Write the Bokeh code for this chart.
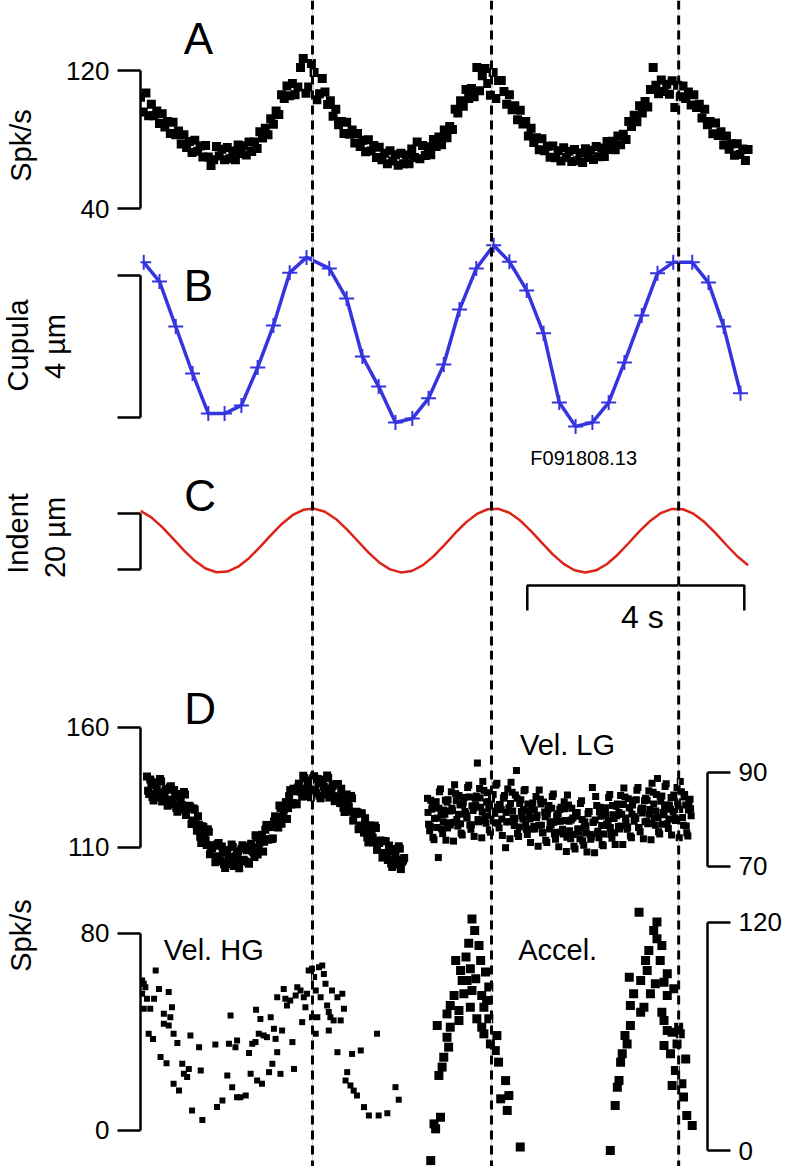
import numpy as np
from math import pi
from bokeh.plotting import figure
from bokeh.models import Range1d, LinearAxis, FixedTicker, Span, Label
from bokeh.embed import file_html
from bokeh.resources import INLINE

# ---------------- data ----------------
# A: afferent firing rate (spk/s), samples every 0.05 s
a_rate = [104.5, 96, 107, 93.8, 100.5, 93.8, 96.5, 89.3, 95, 87.3,
          90.5, 83.5, 90, 82.8, 85, 77.4, 82.8, 75.4, 78.9, 72.5,
          79.6, 73.2, 76.2, 69.9, 76.5, 69.8, 65, 68.2, 75.9, 70.4,
          74.3, 68.3, 75.3, 68.8, 73.3, 68.3, 76.8, 71.9, 76.4, 71,
          78.5, 73, 78.5, 74.8, 84.5, 80.8, 86.5, 82.8, 92, 88.8,
          96.5, 94.5, 106, 103.8, 111, 105.3, 112.5, 106, 110.5, 121.7,
          127, 106.8, 110.5, 124, 118.8, 103, 106.5, 115.4, 107.5, 100.3,
          102.5, 93.5, 97.5, 88.5, 90.5, 83.5, 90, 83, 85.5, 78,
          83.5, 76, 79.5, 72.9, 79.8, 73.4, 76.5, 69.5, 75.5, 68.3,
          72, 66, 73.5, 67.6, 71.2, 65.1, 72, 66, 71, 66,
          74.5, 69.5, 78.5, 68.8, 76.5, 70.7, 75.8, 71.2, 80, 76,
          81.5, 77, 85.5, 81, 87.5, 85.8, 97.5, 95.3, 102.5, 99.3,
          109, 103.8, 109.5, 104.8, 121.7, 108.3, 117, 121.2, 112.5, 105.7,
          118.8, 103.7, 114.2, 114.2, 107.8, 100.4, 106, 97.3, 99.5, 91.5,
          97, 89, 90.5, 82, 86.5, 78.3, 81, 74, 80.5, 73.5,
          76.1, 69.7, 76.3, 69.4, 73.5, 67.6, 75.2, 69.5, 73.2, 67.2,
          74.2, 67.7, 72.2, 66.7, 74.7, 69.5, 73.8, 68.4, 76, 70,
          75.1, 70.2, 78.8, 74.2, 79, 74, 82, 77, 83, 80,
          90.5, 87.5, 94, 90.3, 99.5, 95.3, 102, 98.8, 109, 121.7,
          111.5, 106.5, 114.5, 107.8, 112, 106.3, 114, 98.6, 111.5, 104.8,
          111, 103.8, 107.5, 100, 106, 98.5, 100.5, 92.5, 97.5, 88.5,
          90.5, 83.3, 89.5, 82.3, 84.5, 76.8, 82, 74.3, 77.5, 70.8,
          77.5, 71.3, 74.5, 67.9, 74.2]
a_time = np.round(0.05 * np.arange(len(a_rate)), 3)

# B: cupula displacement (um)
b_time = [0.06, 0.35, 0.65, 0.96, 1.25, 1.55, 1.86, 2.16, 2.45, 2.75,
          3.06, 3.48, 3.80, 4.09, 4.39, 4.70, 5.01, 5.31, 5.59, 5.88,
          6.19, 6.51, 6.80, 7.12, 7.43, 7.72, 8.02, 8.33, 8.63, 8.92,
          9.24, 9.53, 9.82, 10.17, 10.47, 10.75, 11.06]
b_cupula = [4.37, 3.83, 2.56, 1.24, 0.11, 0.11, 0.34, 1.41, 2.59, 4.08,
            4.51, 4.20, 3.35, 1.72, 0.87, -0.14, -0.03, 0.54, 1.49, 3.04,
            4.20, 4.85, 4.39, 3.58, 2.37, 0.42, -0.25, -0.14, 0.42, 1.55,
            2.87, 4.06, 4.37, 4.37, 3.80, 2.56, 0.68]

# C: indentation stimulus (um), samples every 0.2 s
c_indent = [20.92, 18.60, 15.14, 11.02, 6.81, 3.09, 0.37, -0.97, -0.74, 1.01,
            4.05, 7.96, 12.21, 16.19, 19.38, 21.32, 21.75, 20.61, 18.05, 14.44,
            10.26, 6.10, 2.52, 0.03, -1.04, -0.54, 1.47, 4.70, 8.71, 12.95,
            16.83, 19.83, 21.51, 21.66, 20.25, 17.48, 13.72, 9.50, 5.40, 1.99,
            -0.27, -1.07, -0.29, 1.96, 5.37, 9.46, 13.68, 17.44, 20.23, 21.65,
            21.52, 19.85, 16.87, 12.99, 8.75, 4.73, 1.49]
c_time = np.round(0.2 * np.arange(len(c_indent)), 2)

# D upper left (spk/s, left scale), two interleaved sample sets every 0.04 s
d1l_rate_a = [139.6, 132.3, 136, 129.6, 137.2, 132.8, 138.5, 129.2, 132.8, 134.4,
              130, 135.5, 128, 131.5, 124.9, 132.3, 127.7, 133.1, 123.5, 126.4,
              126.8, 121.2, 125.7, 117, 119.5, 111.9, 118.5, 113, 117.6, 107.2,
              109.8, 110.8, 106.3, 111.9, 104.4, 108, 101.5, 109, 105.1, 111.2,
              102.3, 106.3, 108.4, 104.5, 110.9, 104.4, 108.8, 103.2, 111.6, 108,
              115.1, 107.1, 112.2, 115.3, 112.4, 119.4, 113.3, 118.5, 113.8, 123,
              120.3, 127.5, 119.9, 125.4, 128.9, 126.4, 133.9, 128.5, 133.4, 128,
              136.6, 133.2, 139.9, 131.5, 136, 137.9, 133.8, 139.7, 132.6, 136.6,
              130.5, 138.3, 134.1, 140, 130.8, 134.6, 136.3, 131.4, 136.4, 128.5,
              131.6, 124.8, 132.1, 126.9, 131.5, 121.2, 123.9, 124.6, 119.2, 124.2,
              116.2, 119.2, 112.1, 119.1, 114.1, 119.1, 109, 111.9, 112.8, 107.7,
              112.6, 104.8, 108.3, 101.9, 109.4, 104.9, 110.5, 101, 104.6]
d1l_rate_b = [133.6, 138.3, 131, 136.6, 134.2, 130.8, 137.5, 132.2, 133.8, 127.4,
              135, 129.5, 134, 126.5, 131.9, 129.3, 125.7, 132.1, 126.5, 127.4,
              119.8, 126.2, 119.7, 123, 114.5, 118.9, 115.5, 111, 116.6, 110.2,
              110.8, 103.8, 111.3, 105.9, 110.4, 103, 108.5, 106, 103.1, 110.2,
              105.3, 107.3, 101.4, 109.5, 104.9, 110.4, 103.8, 110.2, 108.6, 106,
              114.1, 110.1, 113.2, 108.3, 117.4, 113.4, 119.3, 113.5, 120.8, 120,
              118.3, 126.5, 122.9, 126.4, 121.9, 131.4, 127.9, 134.5, 128.4, 135,
              133.6, 131.2, 138.9, 134.5, 137, 130.9, 138.8, 133.7, 138.6, 131.6,
              137.5, 135.3, 132.1, 139, 133.8, 135.6, 129.3, 136.4, 130.4, 134.5,
              126.6, 131.8, 129.1, 124.9, 130.5, 124.2, 124.9, 117.6, 124.2, 118.2,
              122.2, 114.2, 119.1, 116.1, 112.1, 118.1, 112, 112.9, 105.8, 112.7,
              106.6, 110.8, 103.3, 108.9, 106.4, 102.9, 109.5, 104, 105.6]
d1l_time_a = np.round(0.12 + 0.04 * np.arange(len(d1l_rate_a)), 3)
d1l_time_b = np.round(0.14 + 0.04 * np.arange(len(d1l_rate_b)), 3)

# D upper right: Vel. LG (spk/s, right scale), three interleaved sample sets
lg_rate_a = [84.5, 77.6, 82.2, 75.7, 83.8, 71.9, 86.5, 77, 81.1, 83.7,
             79.3, 85.9, 75.4, 85.5, 78.6, 83.1, 76.7, 84.7, 80.8, 87.3,
             77.9, 81.9, 84.5, 92, 86.6, 76.1, 86.2, 79.2, 83.8, 77.3,
             85.3, 81.3, 87.7, 78.2, 82.1, 84.6, 74, 86.5, 75.9, 85.8,
             78.7, 90.4, 76.4, 84.2, 80.1, 86.4, 76.8, 80.6, 83, 78.5,
             84.9, 74.3, 84.3, 77.2, 81.6, 75.1, 83, 78.9, 85.4, 75.8,
             79.7, 82.1, 77.4, 83.8, 73.2, 83.1, 75.9, 80.3, 73.7, 81.5,
             77.4, 84, 74.5, 78.6, 81.2, 76.8, 86.8, 72.9, 83, 76.1,
             80.7, 74.4, 82.5, 78.7, 85.3, 76, 80.2, 82.8, 78.5, 85.1,
             74.7, 84.8, 77.9, 82.5, 76.1, 84.1, 80.2, 86.8, 77.4, 81.4,
             84, 79.6, 86.1, 75.7, 85.8, 78.8, 88.7, 76.9, 85, 81,
             87.6, 78.1, 82.2, 84.7, 80.3, 86.8, 76.1, 85.9, 78.8, 83.1,
             76.5, 84.3]
lg_rate_b = [79, 84.1, 76.2, 82.7, 80.3, 85.9, 78, 82, 75.6, 84.2,
             78.8, 81.9, 87.4, 80, 85.1, 77.1, 83.7, 81.2, 86.8, 78.8,
             82.9, 76.4, 85, 79.5, 82.6, 88.1, 80.7, 85.7, 77.8, 84.3,
             81.8, 87.3, 79.2, 83.2, 76.6, 85.1, 79.5, 82.5, 87.9, 80.3,
             85.2, 77, 83.4, 80.7, 86.1, 77.9, 81.8, 75.1, 83.5, 78,
             80.9, 86.3, 78.8, 83.7, 75.6, 82.1, 79.5, 84.9, 76.9, 80.8,
             74.2, 82.6, 76.9, 79.8, 85.2, 77.6, 82.4, 74.3, 80.7, 78,
             83.4, 75.5, 79.5, 73.1, 81.7, 76.3, 79.4, 84.9, 77.5, 82.6,
             74.7, 81.4, 79, 84.7, 76.8, 81, 74.7, 83.3, 78, 81.1,
             86.7, 79.3, 84.4, 76.5, 83.1, 80.6, 86.2, 78.3, 82.4, 75.9,
             84.5, 79.1, 82.1, 87.7, 80.3, 85.3, 77.4, 83.9, 81.5, 87,
             79.1, 83.1, 76.7, 85.2, 79.8, 82.8, 88.1, 80.4, 85.3, 77.1,
             83.5, 80.8]
lg_rate_c = [81.5, 78.6, 83.2, 80.2, 78.3, 82.4, 81, 79.5, 84.1, 78.2,
             81.8, 82.4, 79.4, 84, 81.1, 79.1, 83.2, 81.7, 80.3, 84.8,
             78.9, 82.4, 83, 80, 84.6, 81.6, 79.7, 83.7, 82.3, 80.8,
             85.3, 79.3, 82.7, 83.2, 80.1, 84.6, 81.5, 79.5, 83.4, 81.8,
             80.2, 84.5, 78.4, 81.7, 82.1, 78.9, 83.3, 80.1, 78, 82,
             80.4, 78.8, 83.3, 77.2, 80.6, 81.1, 78, 82.4, 79.4, 77.3,
             81.2, 79.6, 77.9, 82.3, 76.2, 79.6, 79.9, 76.8, 81.2, 78,
             75.9, 80, 78.5, 77.1, 81.7, 75.8, 79.4, 79.9, 77, 81.6,
             78.7, 76.9, 81, 79.7, 78.3, 83, 77.2, 80.8, 81.5, 78.6,
             83.2, 80.3, 78.4, 82.5, 81.1, 79.6, 84.2, 78.3, 81.9, 82.4,
             79.5, 84.1, 81.1, 79.2, 83.3, 81.8, 80.4, 84.9, 79, 82.5,
             83.1, 80.1, 84.7, 81.7, 79.8, 83.8, 82.1, 80.4, 84.8, 78.6,
             82, 82.3]
lg_time_a = np.round(5.29 + 0.04 * np.arange(len(lg_rate_a)), 3)
lg_time_b = np.round(5.31 + 0.04 * np.arange(len(lg_rate_b)), 3)
lg_time_c = np.round(5.30 + 0.04 * np.arange(len(lg_rate_c)), 3)

# D lower left: Vel. HG (spk/s, left scale)
hg_time = [0.03, 0.06, 0.09, 0.03, 0.12, 0.06, 0.18, 0.28, 0.34, 0.52,
           0.25, 0.43, 0.58, 0.55, 0.43, 0.52, 0.15, 0.23, 0.37, 0.48,
           0.61, 0.68, 0.77, 0.80, 0.89, 0.92, 0.61, 0.71, 0.86, 0.95,
           1.08, 1.11, 1.14, 1.38, 1.41, 1.51, 1.60, 1.63, 1.66, 1.69,
           1.78, 1.75, 1.78, 1.84, 1.94, 2.00, 2.03, 2.06, 2.12, 2.13,
           2.15, 2.24, 2.21, 2.18, 2.27, 2.33, 2.37, 2.40, 2.43, 2.46,
           2.49, 2.52, 2.58, 2.61, 2.52, 2.64, 2.67, 2.70, 2.76, 2.80,
           2.83, 2.86, 2.89, 2.95, 2.98, 3.01, 3.04, 3.07, 3.10, 3.16,
           3.20, 3.23, 3.26, 3.29, 3.32, 3.35, 3.38, 3.41, 3.44, 3.47,
           3.50, 3.53, 3.56, 3.63, 3.69, 3.72, 3.75, 3.47, 3.23, 3.16,
           3.63, 3.90, 4.06, 3.81, 3.78, 3.87, 3.93, 3.99, 4.12, 4.21,
           4.39, 4.55, 4.70, 4.76, 4.36]
hg_rate = [60.9, 59.6, 58.2, 55.5, 53.5, 49.4, 49.4, 65, 57.5, 56.2,
           53.5, 47.4, 50.1, 46, 43.3, 42.6, 39.3, 37.2, 29.8, 27.3,
           39.3, 35.5, 27.1, 23, 25, 38.6, 19, 16.2, 21.7, 8.1,
           33.8, 24.4, 4.3, 34.9, 9.5, 12.2, 22.3, 35.2, 46.7, 17.6,
           36.5, 33.8, 13.5, 13.5, 14.2, 31.5, 23, 35.2, 35.9, 49,
           20.3, 19, 45.3, 39.3, 38.6, 37.9, 23.7, 46, 27.1, 41.3,
           37.2, 31.8, 23, 40.6, 54.1, 57.5, 53.5, 50.8, 52.8, 35.9,
           25, 54.8, 58.2, 56.9, 44, 54.1, 50.1, 55.5, 65, 65.7,
           62.3, 56.9, 46, 66.3, 54.1, 67, 63.6, 59.6, 50.8, 48.1,
           46, 56.9, 44.7, 54.1, 44.7, 55.5, 49.4, 40.6, 39.3, 46,
           31.8, 31.1, 32.5, 23.7, 20.3, 18.3, 16.2, 14.2, 9.5, 6.1,
           6.1, 7, 17.6, 12.5, 39.3]

# D lower right: Accel. (spk/s, right scale)
acc_time = [6.11, 6.16, 6.05, 6.24, 5.81, 6.00, 6.27, 5.90, 6.08, 6.36,
            5.93, 6.02, 6.18, 6.42, 5.78, 5.96, 6.11, 6.29, 6.38, 5.71,
            5.87, 6.08, 6.33, 5.65, 5.87, 6.20, 6.42, 5.47, 5.71, 6.29,
            5.65, 6.33, 6.57, 5.68, 6.45, 5.59, 6.54, 5.56, 6.60, 5.50,
            6.73, 6.64, 6.79, 6.76, 5.53, 5.41, 5.44, 5.35, 7.00,
            9.19, 9.52, 9.46, 9.52, 9.61, 9.37, 9.31, 9.58, 9.71, 9.34,
            9.01, 9.22, 9.49, 9.65, 9.83, 9.09, 9.40, 9.71, 9.03, 9.28,
            9.22, 9.61, 9.03, 9.65, 9.71, 9.92, 9.80, 8.93, 9.95, 8.97,
            9.65, 9.89, 8.88, 9.77, 8.85, 10.05, 9.86, 8.82, 8.79, 9.80,
            9.98, 10.01, 8.75, 10.07, 10.17, 8.66]
acc_rate = [121.9, 115.8, 109.1, 107.9, 100, 101.8, 100, 94.7, 95.6, 93.9,
            89.5, 89.5, 90.4, 86, 81.6, 82.5, 84.2, 81.6, 78.9, 76.3,
            73.7, 75.4, 75.4, 71.9, 68.4, 69.3, 69.3, 65.8, 64.9, 64.9,
            59.6, 61.4, 60.5, 54.4, 56.1, 49.1, 52.6, 43.9, 46.5, 39.5,
            36.8, 27.2, 28.9, 21.1, 17.5, 14, 11.4, -5.3, 1.8,
            125.4, 120.2, 115.8, 111.4, 107.9, 105.3, 100, 100, 93, 94.7,
            91.2, 89.5, 87.7, 88.6, 85.1, 82.5, 82.5, 81.6, 76.3, 75.4,
            72.8, 72.8, 65.8, 68.4, 63.2, 64.9, 62.3, 60.5, 61.4, 56.1,
            55.3, 56.1, 50.9, 50.9, 46.5, 48.2, 42.1, 36.8, 33.3, 34.2,
            35.1, 28.1, 23.7, 18.4, 13.2, 0]

# times of the stimulus peaks (dashed reference lines), s
peak_times = [3.17, 6.47, 9.92]
# time scale bar
scale_bar_start = 7.13
scale_bar_len = 4

# ---------------- styling / layout ----------------
FONT = "Liberation Sans"
W = 785
LEFT = 140
PX_PER_S = 54.25
BLUE = "#3535e0"
RED = "#dd2218"
LBL = "29px"
LETTER = "44px"


def make_fig(height, y0, y1, right):
    frame_w = W - LEFT - right
    p = figure(width=W, height=height,
               x_range=Range1d(0, frame_w / PX_PER_S), y_range=Range1d(y0, y1),
               x_axis_location=None, y_axis_location="left",
               toolbar_location=None, output_backend="svg",
               min_border_left=LEFT, min_border_right=right,
               min_border_top=0, min_border_bottom=0,
               outline_line_color=None, background_fill_color="white",
               border_fill_color="white")
    p.grid.visible = False
    return p


def style_axis(ax, ticks, labels=True):
    ax.ticker = FixedTicker(ticks=ticks)
    ax.bounds = (min(ticks), max(ticks))
    ax.axis_line_width = 2.5
    ax.axis_line_color = "black"
    ax.major_tick_line_width = 2.5
    ax.major_tick_line_color = "black"
    ax.major_tick_out = 23
    ax.major_tick_in = 0
    ax.minor_tick_out = 0
    ax.minor_tick_in = 0
    ax.major_label_text_font = FONT
    ax.major_label_text_font_size = "26px"
    ax.major_label_text_color = "black"
    ax.major_label_standoff = 8
    if not labels:
        ax.major_label_overrides = {t: "" for t in ticks}


def add_spans(p):
    for t in peak_times:
        p.add_layout(Span(location=t, dimension="height", line_color="#d0d0d0", line_width=1))
        p.add_layout(Span(location=t, dimension="height", line_color="black",
                          line_width=3, line_dash="9 6"))


def txt(p, x, y, s, size, angle=0, place="center"):
    lab = Label(x=x, y=y, text=s, text_font=FONT, text_font_size=size,
                text_align="center", text_baseline="middle", angle=angle,
                text_color="black")
    p.add_layout(lab, place)


RIGHT_ABC = 28
RIGHT_D = 78

# ---- A ---- (page rows 0..232)
pA = make_fig(232, 26.09, 160.58, RIGHT_ABC)
style_axis(pA.yaxis[0], [40, 120])
add_spans(pA)
pA.scatter(a_time, a_rate, marker="square", size=9, fill_color="black", line_color=None)
txt(pA, 1.07, 138.5, "A", LETTER)
txt(pA, -2.21, 76.5, "Spk/s", LBL, angle=pi / 2, place="left")

# ---- B ---- (rows 232..471)
pB = make_fig(239, -1.521, 5.211, RIGHT_ABC)
style_axis(pB.yaxis[0], [0, 4], labels=False)
add_spans(pB)
pB.line(b_time, b_cupula, line_color=BLUE, line_width=3.5)
pB.scatter(b_time, b_cupula, marker="cross", size=15, line_color=BLUE, line_width=2)
txt(pB, 1.07, 3.72, "B", LETTER)
txt(pB, -2.25, 2.03, "Cupula", LBL, angle=pi / 2, place="left")
txt(pB, -1.57, 2.0, "4 µm", LBL, angle=pi / 2, place="left")
txt(pB, 8.17, -1.13, "F091808.13", "20px")

# ---- C ---- (rows 471..650)
pC = make_fig(179, -28.93, 35.0, RIGHT_ABC)
style_axis(pC.yaxis[0], [0, 20], labels=False)
add_spans(pC)
pC.line(c_time, c_indent, line_color=RED, line_width=2.5)
sb_y, sb_tick = -5.71, -14.64
pC.multi_line(xs=[[scale_bar_start, scale_bar_start, scale_bar_start + scale_bar_len,
                   scale_bar_start + scale_bar_len]],
              ys=[[sb_tick, sb_y, sb_y, sb_tick]], line_color="black", line_width=2.5)
txt(pC, 1.1, 26.4, "C", LETTER)
txt(pC, -2.25, 12.86, "Indent", LBL, angle=pi / 2, place="left")
txt(pC, -1.57, 11.43, "20 µm", LBL, angle=pi / 2, place="left")
txt(pC, 9.25, -17.1, "4 s", "32px")

# ---- D upper ---- (rows 650..890)
pD1 = make_fig(240, 92.08, 192.08, RIGHT_D)
style_axis(pD1.yaxis[0], [110, 160])
pD1.extra_y_ranges = {"right": Range1d(64.89, 115.96)}
axR1 = LinearAxis(y_range_name="right")
style_axis(axR1, [70, 90])
pD1.add_layout(axR1, "right")
add_spans(pD1)
for tt, rr in ((d1l_time_a, d1l_rate_a), (d1l_time_b, d1l_rate_b)):
    pD1.scatter(tt, rr, marker="square", size=8, fill_color="black", line_color=None)
for tt, rr in ((lg_time_a, lg_rate_a), (lg_time_b, lg_rate_b), (lg_time_c, lg_rate_c)):
    pD1.scatter(tt, rr, marker="square", size=7, fill_color="black", line_color=None,
                y_range_name="right")
txt(pD1, 1.1, 167.9, "D", LETTER)
txt(pD1, 7.87, 152.5, "Vel. LG", LBL)

# ---- D lower ---- (rows 890..1166)
pD2 = make_fig(276, -14.62, 97.46, RIGHT_D)
style_axis(pD2.yaxis[0], [0, 80])
pD2.extra_y_ranges = {"right": Range1d(-8.42, 136.84)}
axR2 = LinearAxis(y_range_name="right")
style_axis(axR2, [0, 120])
pD2.add_layout(axR2, "right")
add_spans(pD2)
pD2.scatter(hg_time, hg_rate, marker="square", size=6, fill_color="black", line_color=None)
pD2.scatter(acc_time, acc_rate, marker="square", size=9, fill_color="black", line_color=None,
            y_range_name="right")
txt(pD2, -2.21, 79.2, "Spk/s", LBL, angle=pi / 2, place="left")
txt(pD2, 1.35, 73.5, "Vel. HG", LBL)
txt(pD2, 7.69, 73.5, "Accel.", LBL)

# separate roots, stacked vertically (keeps each panel's own frame width)
open("out.html", "w").write(file_html([pA, pB, pC, pD1, pD2], INLINE, title="Afferent response"))
